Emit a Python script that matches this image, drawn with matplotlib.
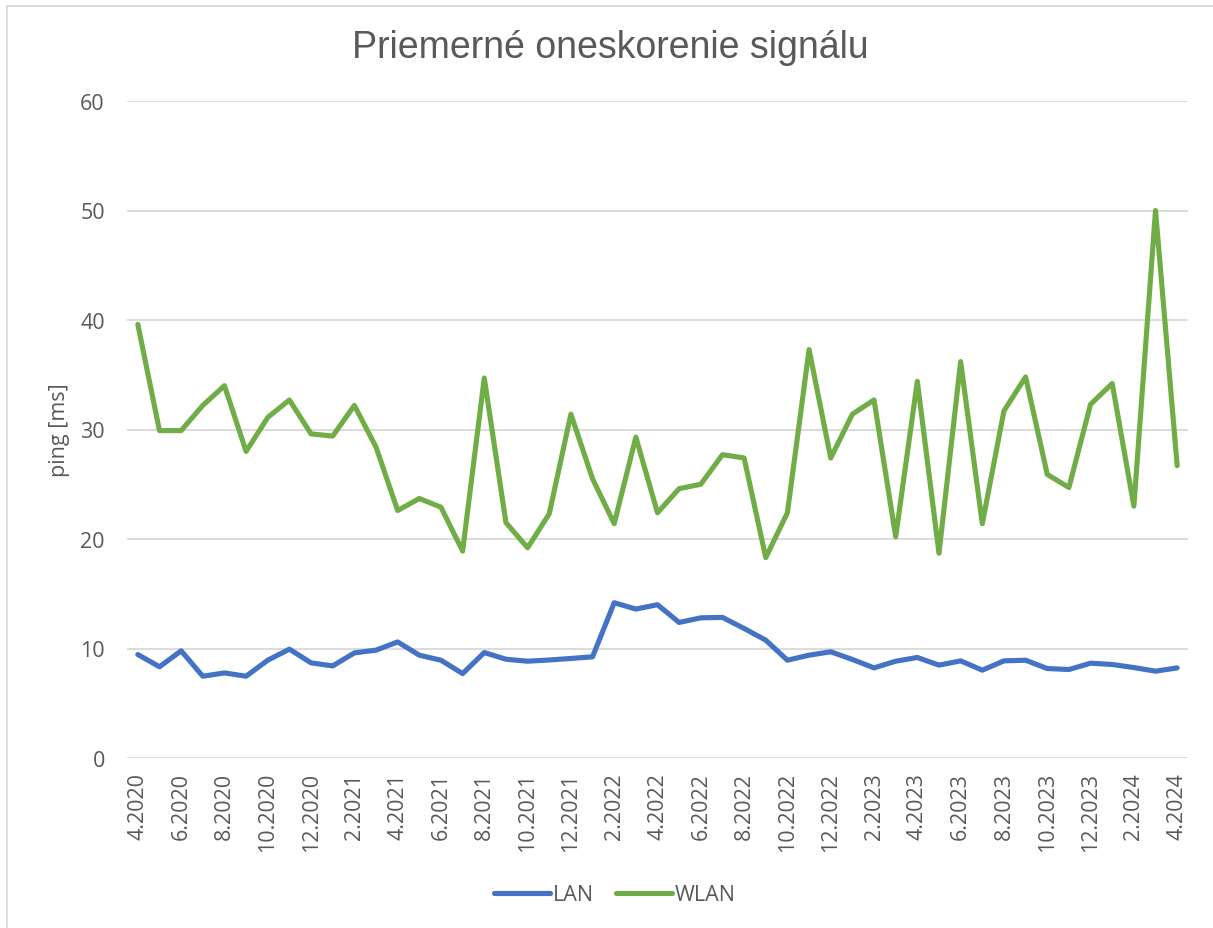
import matplotlib.pyplot as plt
from matplotlib.patches import Rectangle

# monthly labels 4.2020 .. 4.2024
months = [f"{(m - 1) % 12 + 1}.{2020 + (m - 1) // 12}" for m in range(4, 53)]

lan = [9.45, 8.33, 9.79, 7.47, 7.77, 7.47, 8.93, 9.94, 8.69, 8.41,
       9.60, 9.85, 10.6, 9.39, 8.93, 7.71, 9.63, 9.02, 8.84, 8.95,
       9.09, 9.24, 14.18, 13.6, 14.0, 12.38, 12.8, 12.84, 11.83, 10.76,
       8.93, 9.39, 9.7, 9.0, 8.23, 8.84, 9.18, 8.48, 8.87, 8.02,
       8.87, 8.93, 8.17, 8.08, 8.66, 8.54, 8.26, 7.93, 8.23]

wlan = [39.6, 29.9, 29.9, 32.2, 34.0, 28.0, 31.1, 32.7, 29.6, 29.4,
        32.2, 28.4, 22.6, 23.7, 22.9, 18.9, 34.7, 21.5, 19.2, 22.3,
        31.4, 25.5, 21.4, 29.3, 22.4, 24.6, 25.0, 27.7, 27.4, 18.3,
        22.4, 37.3, 27.4, 31.4, 32.7, 20.2, 34.4, 18.7, 36.2, 21.4,
        31.7, 34.8, 25.9, 24.7, 32.3, 34.2, 23.0, 50.0, 26.7]

txt = '#595959'
plt.rcParams['font.family'] = ['Open Sans', 'DejaVu Sans']

fig = plt.figure(figsize=(12.13, 9.29), dpi=100)
ax = fig.add_axes([127 / 1213, 1 - 759 / 929, (1188 - 127) / 1213, (759 - 102) / 929])

x = list(range(len(months)))
ax.plot(x, lan, color='#4472C4', lw=3.7, solid_joinstyle='round', solid_capstyle='round', label='LAN')
ax.plot(x, wlan, color='#70AD47', lw=3.7, solid_joinstyle='round', solid_capstyle='round', label='WLAN')

ax.set_xlim(-0.5, len(months) - 0.5)
ax.set_ylim(0, 60)
ax.set_yticks(range(0, 61, 10))
ax.set_xticks(x[::2])
ax.set_xticklabels(months[::2], rotation=90)
ax.tick_params(length=0, labelsize=15.5, labelcolor=txt)
ax.tick_params(axis='y', pad=16)
ax.tick_params(axis='x', pad=10)
ax.grid(axis='y', color='#D9D9D9', lw=1.3)
ax.set_axisbelow(True)
for s in ax.spines.values():
    s.set_visible(False)

ax.set_ylabel('ping [ms]', fontsize=15.5, color=txt, labelpad=7)

fig.text(610 / 1213, 1 - 48 / 929, 'Priemerné oneskorenie signálu', ha='center', va='center',
         fontsize=27, color=txt, family='Liberation Sans')

fig.legend(loc='center', bbox_to_anchor=(615 / 1213, 1 - 896 / 929), ncol=2, frameon=False,
           fontsize=15.5, labelcolor=txt, handlelength=2.6, handletextpad=0.15, columnspacing=1.0)

# outer chart border
fig.patches.append(Rectangle((6.5 / 1213, -0.05), 1.1, 1 - 6.5 / 929 + 0.05, transform=fig.transFigure,
                             fill=False, edgecolor='#D9D9D9', lw=1.3))

fig.savefig('out.png', dpi=100)
